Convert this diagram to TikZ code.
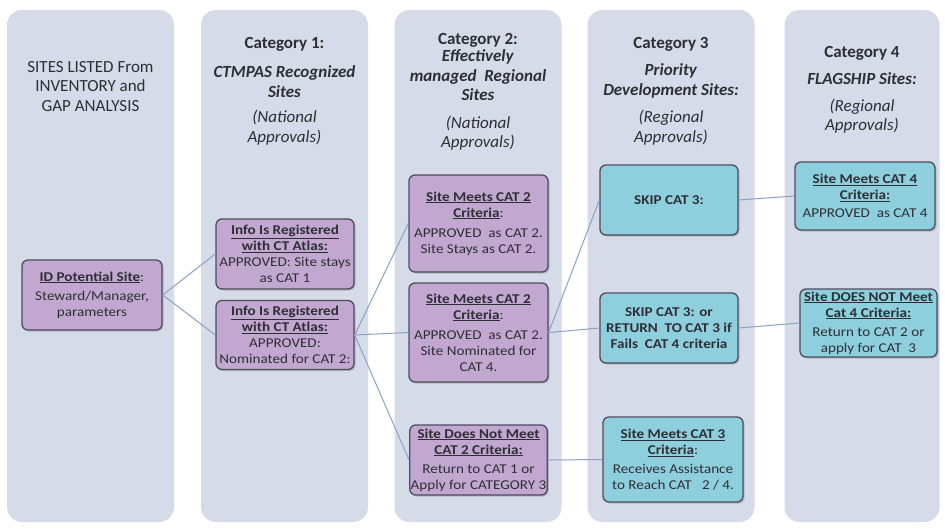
\documentclass[tikz,border=0pt]{standalone}
\usepackage{fontspec}
\setmainfont{Carlito}
\newfontfamily\bodyfont[FakeStretch=1.12]{Carlito}
\usetikzlibrary{shadows}
\definecolor{colbg}{HTML}{D5DBE9}
\definecolor{purp}{HTML}{C2A8D0}
\definecolor{cyanb}{HTML}{8ECFDD}
\definecolor{bord}{HTML}{4D4D5C}
\definecolor{conn}{HTML}{8AA2C4}
\definecolor{txt}{HTML}{2E2E35}
\tikzset{
  column/.style={fill=colbg, rounded corners=15pt, minimum width=167pt, minimum height=512pt, inner sep=0pt},
  hdr/.style={align=center, text=txt, inner sep=0pt, anchor=north, font=\fontsize{17}{19.5}\selectfont},
  box/.style={draw=bord, line width=1.3pt, rounded corners=6pt, align=center, inner sep=1pt, text=txt,
    font=\bodyfont\fontsize{13.5}{16}\selectfont,
    drop shadow={shadow xshift=1.5pt, shadow yshift=-1.5pt, opacity=0.4}},
  pbox/.style={box, fill=purp},
  cbox/.style={box, fill=cyanb},
  link/.style={draw=conn, line width=1pt}
}
\begin{document}
\begin{tikzpicture}[x=1pt,y=-1pt]
\useasboundingbox[fill=white] (0,0) rectangle (945,531);
% columns
\node[column] (col1) at (90.5,266) {};
\node[column] (col2) at (284.5,266) {};
\node[column] (col3) at (478,266) {};
\node[column] (col4) at (671,266) {};
\node[column, minimum width=155pt] (col5) at (862,266) {};
% headers
\node[hdr] (h1) at (90.5,61) {SITES LISTED From\\INVENTORY and\\GAP ANALYSIS};
\node[hdr] (h2) at (284.5,37) {\textbf{Category 1:}\\[10pt]\textbf{\itshape CTMPAS Recognized}\\\textbf{\itshape Sites}\\[6pt]\itshape (National\\\itshape Approvals)};
\node[hdr] (h3) at (478,33) {\textbf{Category 2:}\\[-2pt]\textbf{\itshape Effectively}\\\textbf{\itshape managed\ \ Regional}\\\textbf{\itshape Sites}\\[8pt]\itshape (National\\\itshape Approvals)};
\node[hdr] (h4) at (671,37) {\textbf{Category 3}\\[8pt]\textbf{\itshape Priority}\\\textbf{\itshape Development Sites:}\\[8pt]\itshape (Regional\\\itshape Approvals)};
\node[hdr] (h5) at (862,46) {\textbf{Category 4}\\[8pt]\textbf{\itshape FLAGSHIP Sites:}\\[7pt]\itshape (Regional\\\itshape Approvals)};
% boxes
\node[pbox, minimum width=140pt, minimum height=70pt] (id) at (92,295)
  {\textbf{\underline{ID Potential Site}}:\\[3pt]Steward/Manager,\\parameters};
\node[pbox, minimum width=138pt, minimum height=70pt] (c1a) at (285,254)
  {\textbf{\underline{Info Is Registered}}\\\textbf{\underline{with CT Atlas:}}\\APPROVED: Site stays\\as CAT 1};
\node[pbox, minimum width=138pt, minimum height=69pt] (c1b) at (285,335)
  {\textbf{\underline{Info Is Registered}}\\\textbf{\underline{with CT Atlas:}}\\APPROVED:\\Nominated for CAT 2:};
\node[pbox, minimum width=139pt, minimum height=97pt] (c2a) at (478.5,223.5)
  {\textbf{\underline{Site Meets CAT 2}}\\\textbf{\underline{Criteria}}:\\[4pt]APPROVED\ \ as CAT 2.\\Site Stays as CAT 2.};
\node[pbox, minimum width=139pt, minimum height=99pt] (c2b) at (478.5,332.5)
  {\textbf{\underline{Site Meets CAT 2}}\\\textbf{\underline{Criteria}}:\\[4pt]APPROVED\ \ as CAT 2.\\Site Nominated for\\CAT 4.};
\node[pbox, minimum width=137pt, minimum height=70pt] (c2c) at (478.5,460)
  {\textbf{\underline{Site Does Not Meet}}\\\textbf{\underline{CAT 2 Criteria:}}\\[3pt]Return to CAT 1 or\\Apply for CATEGORY\ 3};
\node[cbox, minimum width=138pt, minimum height=70pt] (s3a) at (669,200)
  {\textbf{SKIP CAT 3:}};
\node[cbox, minimum width=138pt, minimum height=70pt] (s3b) at (669,328)
  {\textbf{SKIP CAT 3: or}\\\textbf{RETURN\ \ TO CAT 3 if}\\\textbf{Fails\ \ CAT 4 criteria}};
\node[cbox, minimum width=140pt, minimum height=85pt] (s3c) at (673,459.5)
  {\textbf{\underline{Site Meets CAT 3}}\\\textbf{\underline{Criteria}}:\\[3pt]Receives Assistance\\to Reach CAT\ \ \ 2 / 4.};
\node[cbox, minimum width=140pt, minimum height=68pt] (c4a) at (865,196)
  {\textbf{\underline{Site Meets CAT 4}}\\\textbf{\underline{Criteria:}}\\[2pt]APPROVED\ \ as CAT 4};
\node[cbox, minimum width=137pt, minimum height=68pt] (c4b) at (868.5,323)
  {\textbf{\underline{Site DOES NOT Meet}}\\\textbf{\underline{Cat 4 Criteria:}}\\[3pt]Return to CAT 2 or\\apply for CAT\ \ 3};
% connectors
\draw[link] (id.east) -- (c1a.west);
\draw[link] (id.east) -- (c1b.west);
\draw[link] (c1b.east) -- (c2a.west);
\draw[link] (c1b.east) -- (c2b.west);
\draw[link] (c1b.east) -- (c2c.west);
\draw[link] (c2b.east) -- (s3a.west);
\draw[link] (c2b.east) -- (s3b.west);
\draw[link] (s3a.east) -- (c4a.west);
\draw[link] (s3b.east) -- (c4b.west);
\draw[link] (c2c.east) -- (s3c.west);
\end{tikzpicture}
\end{document}
